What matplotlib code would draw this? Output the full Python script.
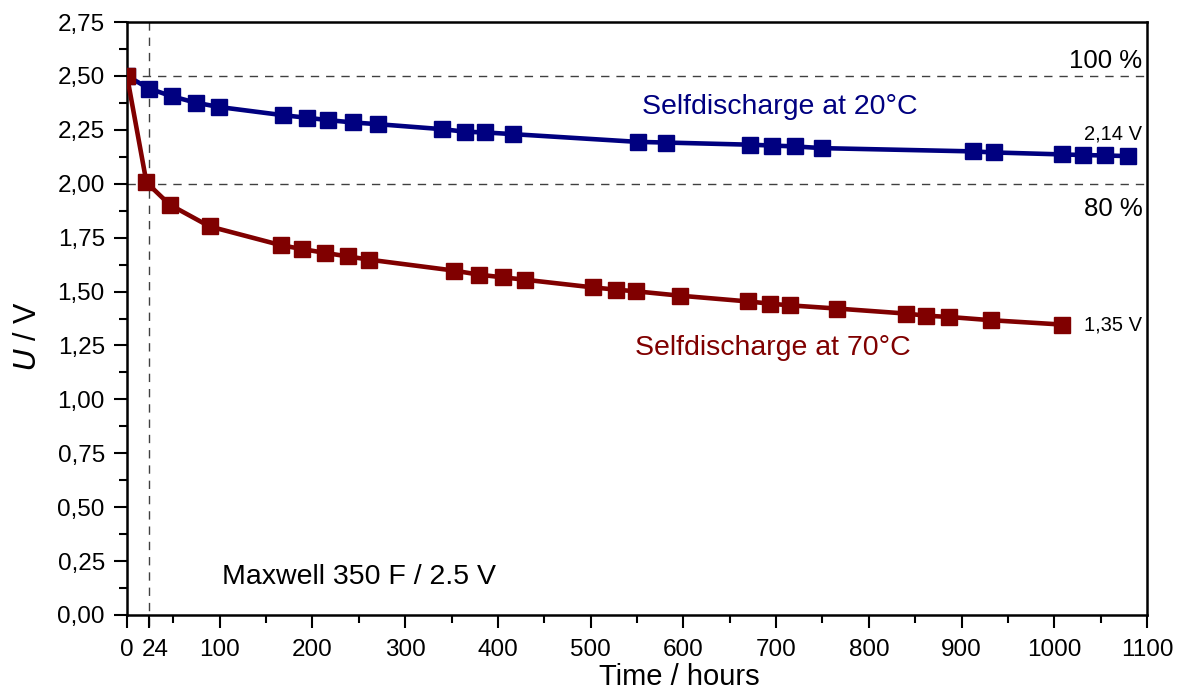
import matplotlib
matplotlib.use("Agg")
import matplotlib.pyplot as plt
import matplotlib.transforms as mtransforms
from matplotlib.ticker import MultipleLocator, FixedLocator, FixedFormatter

plt.rcParams['font.family'] = ['Liberation Sans', 'DejaVu Sans']

# Data (hours, volts)
t20 = [0, 24, 48, 74, 99, 168, 194, 217, 244, 271, 340, 365, 386, 416,
       551, 581, 672, 696, 720, 750, 912, 935, 1008, 1031, 1055, 1080]
u20 = [2.50, 2.441, 2.406, 2.376, 2.356, 2.318, 2.306, 2.295, 2.284, 2.276,
       2.253, 2.241, 2.238, 2.230, 2.194, 2.191, 2.181, 2.177, 2.173, 2.165,
       2.150, 2.145, 2.136, 2.133, 2.131, 2.128]

t70 = [0, 21, 46, 89, 166, 189, 214, 238, 261, 353, 380, 405, 429,
       503, 527, 549, 596, 670, 693, 715, 766, 840, 862, 887, 932, 1008]
u70 = [2.50, 2.006, 1.903, 1.802, 1.715, 1.697, 1.679, 1.663, 1.648, 1.597,
       1.578, 1.566, 1.555, 1.519, 1.509, 1.501, 1.481, 1.454, 1.444, 1.436,
       1.421, 1.398, 1.388, 1.382, 1.367, 1.347]

xticks = [0, 24, 100, 200, 300, 400, 500, 600, 700, 800, 900, 1000, 1100]
xticklabels = ['0', '24', '100', '200', '300', '400', '500', '600', '700',
               '800', '900', '1000', '1100']
yticks = [0, 0.25, 0.5, 0.75, 1.0, 1.25, 1.5, 1.75, 2.0, 2.25, 2.5, 2.75]
yticklabels = ['0,00', '0,25', '0,50', '0,75', '1,00', '1,25', '1,50', '1,75',
               '2,00', '2,25', '2,50', '2,75']

blue = '#000080'
red = '#800000'

fig = plt.figure(figsize=(11.77, 6.90), dpi=100)
ax = fig.add_axes([127/1177, 1 - 615/690, (1147-127)/1177, (615-22)/690])

ax.set_xlim(0, 1100)
ax.set_ylim(0, 2.75)

# reference lines
ax.axhline(2.5, color='#404040', lw=1.0, ls=(0, (6, 5)), zorder=1)
ax.axhline(2.0, color='#404040', lw=1.0, ls=(0, (6, 5)), zorder=1)
ax.plot([24, 24], [-0.05, 2.75], color='#404040', lw=1.0, ls=(0, (6, 5)),
        zorder=1, clip_on=False)

ax.plot(t20, u20, color=blue, lw=3.3, marker='s', ms=11, zorder=3)
ax.plot(t70, u70, color=red, lw=3.3, marker='s', ms=11, zorder=4)

ax.xaxis.set_major_locator(FixedLocator(xticks))
ax.xaxis.set_major_formatter(FixedFormatter(xticklabels))
ax.xaxis.set_minor_locator(FixedLocator([50, 150, 250, 350, 450, 550, 650,
                                         750, 850, 950, 1050]))
ax.yaxis.set_major_locator(FixedLocator(yticks))
ax.yaxis.set_major_formatter(FixedFormatter(yticklabels))
ax.yaxis.set_minor_locator(MultipleLocator(0.125))

ax.tick_params(which='major', direction='out', length=9.5, width=1.5,
               labelsize=17.5, top=False, right=False)
ax.tick_params(axis='x', which='major', pad=7.5)
ax.tick_params(axis='y', which='major', pad=6.5)
ax.tick_params(which='minor', direction='out', length=6, width=1.5,
               top=False, right=False)
for s in ax.spines.values():
    s.set_linewidth(1.8)

# shift the "24" label slightly right, as in the reference
fig.canvas.draw()
for lab in ax.get_xticklabels():
    if lab.get_text() == '24':
        lab.set_transform(lab.get_transform() +
                          mtransforms.ScaledTranslation(6/100, 0, fig.dpi_scale_trans))

ax.set_xlabel('Time / hours', fontsize=21)
ax.xaxis.set_label_coords(0.541, -0.1045)
ax.xaxis.label.set_va('center')
ax.set_ylabel(r'$\it{U}$ / V', fontsize=22)
ax.yaxis.set_label_coords(-0.097, 0.47)
ax.yaxis.label.set_va('center')

ax.text(704, 2.357, 'Selfdischarge at 20°C', color=blue, fontsize=20.5,
        ha='center', va='center')
ax.text(696, 1.238, 'Selfdischarge at 70°C', color=red, fontsize=20.5,
        ha='center', va='center')
ax.text(102, 0.178, 'Maxwell 350 F / 2.5 V', color='black', fontsize=20.5,
        ha='left', va='center')
ax.text(1095, 2.57, '100 %', fontsize=18.5, ha='right', va='center')
ax.text(1095, 1.885, '80 %', fontsize=18.5, ha='right', va='center')
ax.text(1095, 2.23, '2,14 V', fontsize=14.5, ha='right', va='center')
ax.text(1095, 1.343, '1,35 V', fontsize=14.5, ha='right', va='center')

fig.savefig('out.png', dpi=100)
